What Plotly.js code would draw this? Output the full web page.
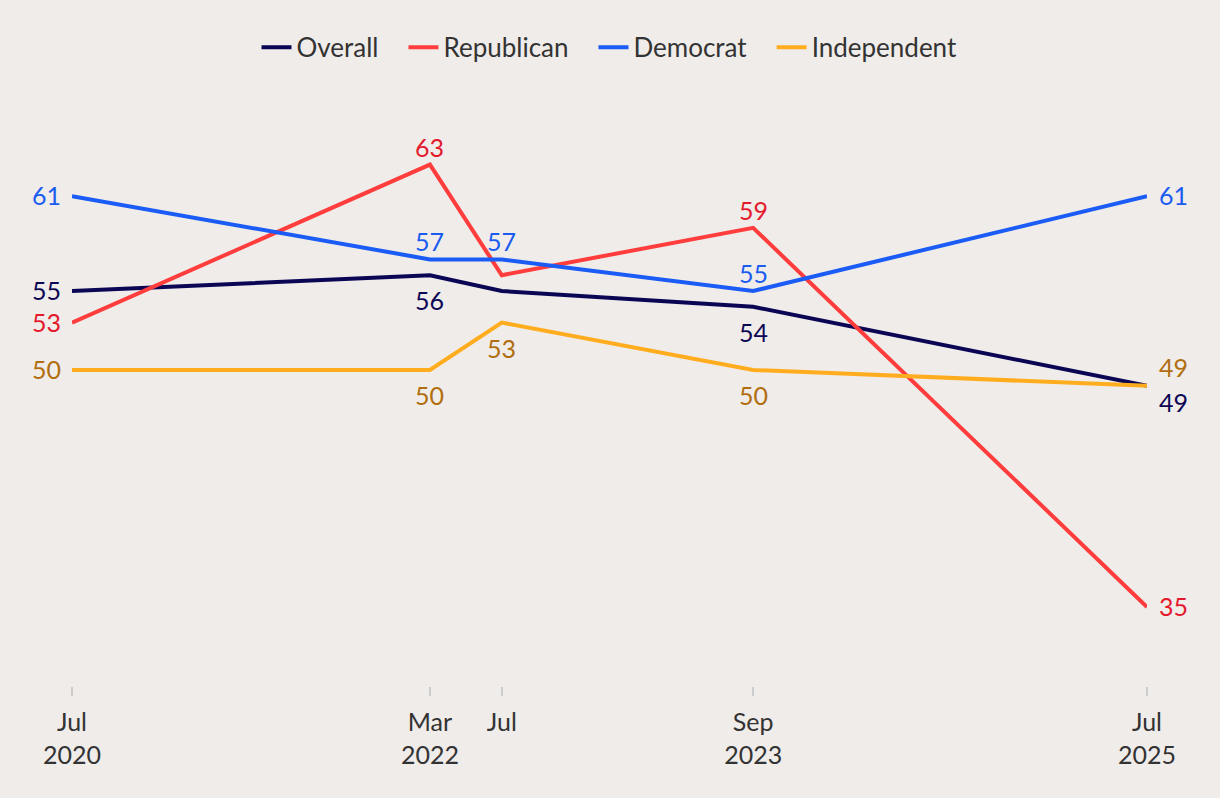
<!DOCTYPE html>
<html>
<head>
<meta charset="utf-8">
<script src="https://cdn.plot.ly/plotly-3.0.1.min.js"></script>
<style>
html,body{margin:0;padding:0;background:#f0ecea;}
#chart{width:1220px;height:798px;}
</style>
</head>
<body>
<div id="chart"></div>
<script>
// Data
const dates = ['2020-07-01', '2022-03-01', '2022-07-01', '2023-09-01', '2025-07-01'];
const tickLabels = ['Jul<br>2020', 'Mar<br>2022', 'Jul', 'Sep<br>2023', 'Jul<br>2025'];
const seriesNames = ['Overall', 'Republican', 'Democrat', 'Independent'];
const overall     = [55, 56, 55, 54, 49];
const republican  = [53, 63, 56, 59, 35];
const democrat    = [61, 57, 57, 55, 61];
const independent = [50, 50, 53, 50, 49];

// which points carry a value label, and where
const overallPos     = ['left', 'bottom', null, 'bottom', 'bottomright'];
const republicanPos  = ['left', 'top', null, 'top', 'right'];
const democratPos    = ['left', 'top', 'top', 'top', 'right'];
const independentPos = ['left', 'bottom', 'bottom', 'bottom', 'topright'];

const FONT = 'Lato, "Open Sans", sans-serif';
const PAD = '\u00a0\u00a0\u00a0';

const placements = {
  left:        {xanchor: 'right',  xshift: -9, yshift: 1},
  top:         {xanchor: 'center', xshift: 0,  yshift: 18},
  bottom:      {xanchor: 'center', xshift: 0,  yshift: -25},
  right:       {xanchor: 'left',   xshift: 10, yshift: 1},
  topright:    {xanchor: 'left',   xshift: 10, yshift: 19},
  bottomright: {xanchor: 'left',   xshift: 10, yshift: -16}
};

const series = [
  {name: seriesNames[0], y: overall,     pos: overallPos,     line: '#0b0654', text: '#0b0654'},
  {name: seriesNames[1], y: republican,  pos: republicanPos,  line: '#ff3d3d', text: '#e3192c'},
  {name: seriesNames[2], y: democrat,    pos: democratPos,    line: '#1a5cf5', text: '#1a5cf0'},
  {name: seriesNames[3], y: independent, pos: independentPos, line: '#ffad1f', text: '#b06e0f'}
];

const traces = series.map((s, k) => ({
  type: 'scatter',
  mode: 'lines',
  name: k < series.length - 1 ? s.name + PAD : s.name,
  x: dates,
  y: s.y,
  line: {color: s.line, width: 4},
  hoverinfo: 'skip'
}));

const annotations = [];
series.forEach(s => {
  s.y.forEach((v, i) => {
    const p = s.pos[i];
    if (!p) return;
    const pl = placements[p];
    annotations.push({
      x: dates[i], y: v, xref: 'x', yref: 'y',
      text: String(v),
      showarrow: false,
      xanchor: pl.xanchor, yanchor: 'middle',
      xshift: pl.xshift, yshift: pl.yshift,
      font: {family: FONT, size: 25, color: s.text}
    });
  });
});

const layout = {
  width: 1220,
  height: 798,
  paper_bgcolor: '#f0ecea',
  plot_bgcolor: '#f0ecea',
  margin: {l: 72, r: 73, t: 133, b: 112},
  font: {family: FONT, color: '#333333', size: 25},
  showlegend: true,
  legend: {
    orientation: 'h',
    x: 0.5, xanchor: 'center',
    y: 1.155, yanchor: 'middle',
    font: {family: FONT, size: 26, color: '#333333'},
    itemwidth: 30,
    traceorder: 'normal'
  },
  annotations: annotations,
  xaxis: {
    type: 'date',
    range: ['2020-07-01', '2025-07-01'],
    tickmode: 'array',
    tickvals: dates,
    ticktext: tickLabels,
    ticks: 'outside',
    ticklen: 9,
    tickwidth: 1.5,
    tickcolor: '#cccccc',
    ticklabelstandoff: 5,
    showgrid: false,
    zeroline: false,
    showline: false,
    tickfont: {family: FONT, size: 25, color: '#333333'}
  },
  yaxis: {
    range: [30, 65],
    showgrid: false,
    zeroline: false,
    showline: false,
    showticklabels: false,
    ticks: ''
  }
};

Plotly.newPlot('chart', traces, layout, {displayModeBar: false, staticPlot: true});
</script>
</body>
</html>
